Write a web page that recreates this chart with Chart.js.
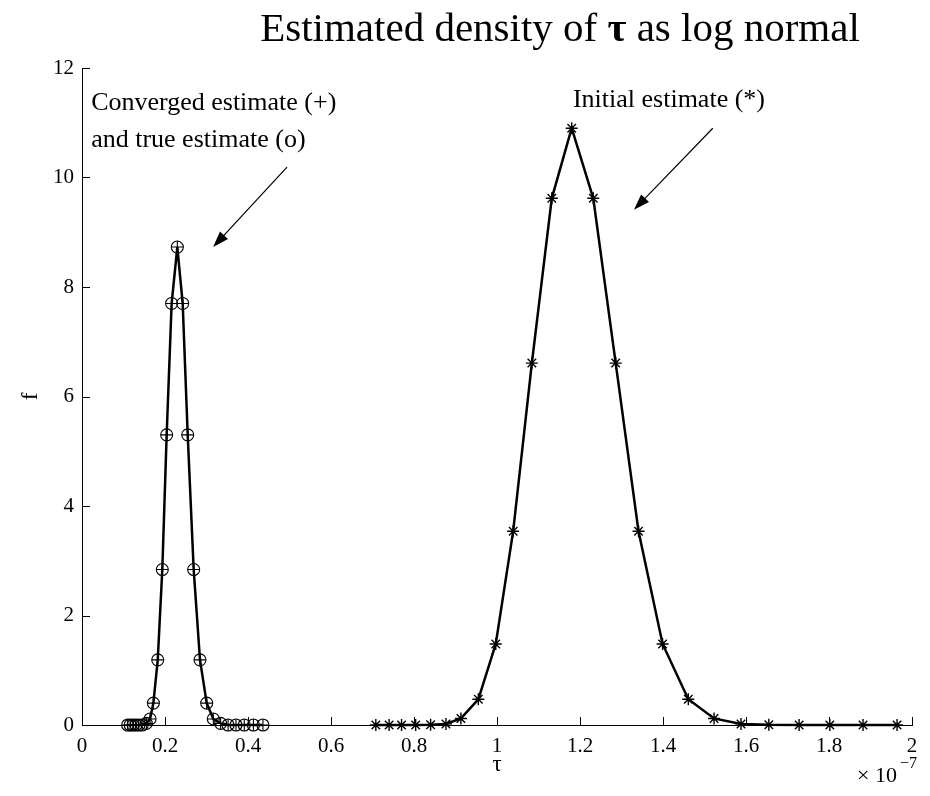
<!DOCTYPE html>
<html lang="en">
    <head>
        <meta charset="UTF-8" />
        <title>Estimated density of tau as log normal</title>
        <style>
            html, body {
                margin: 0;
                padding: 0;
                background: #fff;
            }
            #chart-box {
                width: 930px;
                height: 796px;
            }
        </style>
    </head>
    <body>
        <div id="chart-box">
            <canvas id="densityChart" width="930" height="796"></canvas>
        </div>

        <script src="https://cdn.jsdelivr.net/npm/chart.js"></script>
        <script>
            // tau in units of 1e-7, f = density
            const tauInitial = [
                0.708, 0.740, 0.770, 0.804, 0.840, 0.877, 0.913, 0.955, 0.997,
                1.039, 1.084, 1.132, 1.180, 1.232, 1.286, 1.341, 1.399, 1.461,
                1.523, 1.588, 1.655, 1.728, 1.802, 1.882, 1.964,
            ];
            const fInitial = [
                0, 0, 0, 0, 0.003, 0.02, 0.12, 0.47, 1.48,
                3.54, 6.61, 9.62, 10.9, 9.62, 6.61, 3.54, 1.48, 0.47,
                0.12, 0.02, 0.003, 0, 0, 0, 0,
            ];

            // converged estimate (+) and true estimate (o) sit on top of each other
            const tauConverged = [
                0.110, 0.116, 0.123, 0.130, 0.137, 0.145, 0.155, 0.164, 0.172,
                0.1825, 0.1935, 0.204, 0.216, 0.2297, 0.2426, 0.2547, 0.2691,
                0.2843, 0.3005, 0.3164, 0.334, 0.352, 0.371, 0.391, 0.413, 0.436,
            ];
            const fConverged = [
                0, 0, 0, 0, 0, 0, 0.03, 0.11, 0.40,
                1.19, 2.84, 5.30, 7.70, 8.73, 7.70, 5.30, 2.84,
                1.19, 0.40, 0.11, 0.03, 0, 0, 0, 0, 0,
            ];
            const fTrue = fConverged.slice();

            const xTicks = [0, 0.2, 0.4, 0.6, 0.8, 1, 1.2, 1.4, 1.6, 1.8, 2];
            const yTicks = [0, 2, 4, 6, 8, 10, 12];

            const serif = "'Liberation Serif', 'DejaVu Serif', serif";

            function toPoints(xs, ys) {
                return xs.map((x, i) => ({ x: x, y: ys[i] }));
            }

            // ticks pointing inwards, arrows, notes and title
            const decorPlugin = {
                id: "decor",
                afterDraw(chart) {
                    const c = chart.ctx;
                    const xs = chart.scales.x;
                    const ys = chart.scales.y;
                    const area = chart.chartArea;
                    c.save();
                    c.strokeStyle = "#000";
                    c.lineWidth = 1;
                    c.beginPath();
                    xTicks.forEach((v) => {
                        const px = Math.round(xs.getPixelForValue(v)) + 0.5;
                        c.moveTo(px, area.bottom);
                        c.lineTo(px, area.bottom - 8);
                    });
                    yTicks.forEach((v) => {
                        const py = Math.round(ys.getPixelForValue(v)) + 0.5;
                        c.moveTo(area.left, py);
                        c.lineTo(area.left + 8, py);
                    });
                    c.stroke();

                    // arrows
                    function arrow(x0, y0, x1, y1) {
                        const ax = xs.getPixelForValue(x0);
                        const ay = ys.getPixelForValue(y0);
                        const bx = xs.getPixelForValue(x1);
                        const by = ys.getPixelForValue(y1);
                        const ang = Math.atan2(by - ay, bx - ax);
                        const len = 16;
                        const wid = 5.5;
                        c.beginPath();
                        c.moveTo(ax, ay);
                        c.lineTo(bx - Math.cos(ang) * len * 0.8, by - Math.sin(ang) * len * 0.8);
                        c.lineWidth = 1.2;
                        c.stroke();
                        c.beginPath();
                        c.moveTo(bx, by);
                        c.lineTo(
                            bx - Math.cos(ang) * len + Math.sin(ang) * wid,
                            by - Math.sin(ang) * len - Math.cos(ang) * wid
                        );
                        c.lineTo(
                            bx - Math.cos(ang) * len - Math.sin(ang) * wid,
                            by - Math.sin(ang) * len + Math.cos(ang) * wid
                        );
                        c.closePath();
                        c.fillStyle = "#000";
                        c.fill();
                    }
                    arrow(0.494, 10.19, 0.316, 8.73);
                    arrow(1.520, 10.90, 1.330, 9.41);

                    // notes
                    c.fillStyle = "#000";
                    c.font = "26px " + serif;
                    c.textBaseline = "middle";
                    c.textAlign = "left";
                    c.fillText("Converged estimate (+)", xs.getPixelForValue(0.022), ys.getPixelForValue(11.35));
                    c.fillText("and true estimate (o)", xs.getPixelForValue(0.022), ys.getPixelForValue(10.68));
                    c.fillText("Initial estimate (*)", xs.getPixelForValue(1.183), ys.getPixelForValue(11.42));

                    // title with bold tau
                    const tf = "41px " + serif;
                    const tb = "bold 41px " + serif;
                    c.font = tf;
                    const t1 = "Estimated density of ";
                    const t2 = "\u03C4";
                    const t3 = " as log normal";
                    const w1 = c.measureText(t1).width;
                    const w3 = c.measureText(t3).width;
                    c.font = tb;
                    const w2 = c.measureText(t2).width;
                    let tx = 560 - (w1 + w2 + w3) / 2;
                    const ty = 30;
                    c.font = tf;
                    c.fillText(t1, tx, ty);
                    tx += w1;
                    c.font = tb;
                    c.fillText(t2, tx, ty);
                    tx += w2;
                    c.font = tf;
                    c.fillText(t3, tx, ty);

                    // axis labels
                    c.font = "23px " + serif;
                    c.textAlign = "center";
                    c.fillText("\u03C4", (area.left + area.right) / 2, 765);
                    c.save();
                    c.translate(31, (area.top + area.bottom) / 2);
                    c.rotate(-Math.PI / 2);
                    c.fillText("f", 0, 0);
                    c.restore();

                    // exponent
                    c.textAlign = "left";
                    c.font = "22px " + serif;
                    c.fillText("\u00D7 10", 857, 776);
                    c.font = "16px " + serif;
                    c.fillText("\u22127", 900, 764);
                    c.restore();
                },
            };

            const ctx = document.getElementById("densityChart").getContext("2d");
            const densityChart = new Chart(ctx, {
                type: "scatter",
                data: {
                    datasets: [
                        {
                            label: "Initial estimate",
                            data: toPoints(tauInitial, fInitial),
                            showLine: true,
                            borderColor: "#000",
                            borderWidth: 2.5,
                            pointStyle: "star",
                            pointRadius: 6,
                            pointBorderWidth: 1.4,
                            pointBorderColor: "#000",
                            pointBackgroundColor: "#000",
                            clip: false,
                        },
                        {
                            label: "Converged estimate",
                            data: toPoints(tauConverged, fConverged),
                            showLine: true,
                            borderColor: "#000",
                            borderWidth: 2.5,
                            pointStyle: "cross",
                            pointRadius: 6,
                            pointBorderWidth: 1.1,
                            pointBorderColor: "#000",
                            clip: false,
                        },
                        {
                            label: "True estimate",
                            data: toPoints(tauConverged, fTrue),
                            showLine: false,
                            pointStyle: "circle",
                            pointRadius: 6,
                            pointBorderWidth: 1.1,
                            pointBorderColor: "#000",
                            pointBackgroundColor: "rgba(0,0,0,0)",
                            clip: false,
                        },
                    ],
                },
                options: {
                    responsive: false,
                    animation: false,
                    layout: {
                        padding: { left: 0, right: 18, top: 68, bottom: 0 },
                    },
                    plugins: {
                        legend: { display: false },
                        title: { display: false },
                        tooltip: { enabled: false },
                    },
                    scales: {
                        x: {
                            type: "linear",
                            min: 0,
                            max: 2,
                            afterFit(scale) {
                                scale.height = 71;
                            },
                            afterBuildTicks(scale) {
                                scale.ticks = xTicks.map((v) => ({ value: v }));
                            },
                            grid: { display: false },
                            border: { display: true, color: "#000", width: 1 },
                            ticks: {
                                color: "#000",
                                font: { family: serif, size: 21 },
                                padding: 1,
                                maxRotation: 0,
                                autoSkip: false,
                                callback: (v) => String(v),
                            },
                        },
                        y: {
                            type: "linear",
                            min: 0,
                            max: 12,
                            afterFit(scale) {
                                scale.width = 82;
                            },
                            afterBuildTicks(scale) {
                                scale.ticks = yTicks.map((v) => ({ value: v }));
                            },
                            grid: { display: false },
                            border: { display: true, color: "#000", width: 1 },
                            ticks: {
                                color: "#000",
                                font: { family: serif, size: 21 },
                                padding: 0,
                                callback: (v) => String(v),
                            },
                        },
                    },
                },
                plugins: [decorPlugin],
            });
        </script>
    </body>
</html>
